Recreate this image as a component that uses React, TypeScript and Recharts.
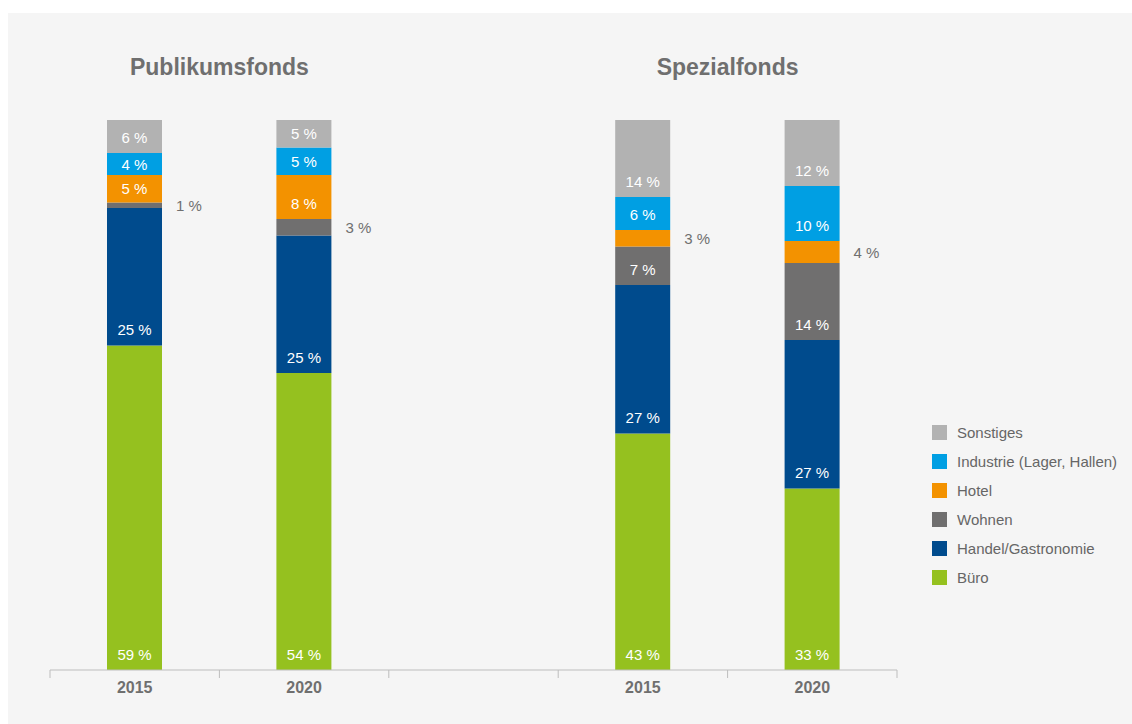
import { BarChart, Bar, XAxis, YAxis, LabelList, Legend } from 'recharts';

// categories: two fund types, each with 2015 and 2020, with an empty slot between
const categories = ['P-2015', 'P-2020', 'gap', 'S-2015', 'S-2020'];
const yearLabels = ['2015', '2020', '', '2015', '2020'];
const groupTitles = ['Publikumsfonds', 'Spezialfonds'];

// shares in percent
const buero = [59, 54, null, 43, 33];
const handel = [25, 25, null, 27, 27];
const wohnen = [1, 3, null, 7, 14];
const hotel = [5, 8, null, 3, 4];
const industrie = [4, 5, null, 6, 10];
const sonstiges = [6, 5, null, 14, 12];

// which segment gets its label outside the bar
const outsideLabel = ['wohnen', 'wohnen', null, 'hotel', 'hotel'];

const SERIES = [
  { key: 'buero', name: 'Büro', color: '#95c11f', values: buero },
  { key: 'handel', name: 'Handel/Gastronomie', color: '#004b8d', values: handel },
  { key: 'wohnen', name: 'Wohnen', color: '#706f6f', values: wohnen },
  { key: 'hotel', name: 'Hotel', color: '#f39200', values: hotel },
  { key: 'industrie', name: 'Industrie (Lager, Hallen)', color: '#009fe3', values: industrie },
  { key: 'sonstiges', name: 'Sonstiges', color: '#b2b2b2', values: sonstiges },
];

const data = categories.map((c, i) => {
  const row: any = { key: c };
  SERIES.forEach((s) => {
    row[s.key] = s.values[i];
  });
  return row;
});

const W = 1124;
const H = 711;
const MARGIN = { top: 107, right: 235, bottom: 24, left: 42 };
const PLOT_W = W - MARGIN.left - MARGIN.right;
const BAND = PLOT_W / categories.length;
const TEXT = '#6f6f6f';
const FONT = '"Liberation Sans", Arial, Helvetica, sans-serif';

const makeLabel = (seriesKey: string) => (props: any) => {
  const vb = props.viewBox || {};
  const x = props.x ?? vb.x;
  const y = props.y ?? vb.y;
  const width = props.width ?? vb.width;
  const height = props.height ?? vb.height;
  const value = props.value;
  if (value == null || !height) return null;
  // category of this bar, found from where it sits on the axis
  const cat = Math.floor((x + width / 2 - MARGIN.left) / BAND);
  if (outsideLabel[cat] === seriesKey) {
    return (
      <text x={x + width + 14} y={y + height / 2 + 5.5} fill={TEXT} fontSize={15}>
        {value} %
      </text>
    );
  }
  const cy = Math.max(y + height / 2, y + height - 16);
  return (
    <text x={x + width / 2} y={cy + 5.5} textAnchor="middle" fill="#ffffff" fontSize={15}>
      {value} %
    </text>
  );
};

const YearTick = (props: any) => {
  const { x, y, payload, index } = props;
  const band = props.width && props.visibleTicksCount ? props.width / props.visibleTicksCount : BAND;
  const axisY = y - 8;
  const i = index ?? categories.indexOf(payload.value);
  return (
    <g>
      <line x1={x - band / 2} x2={x - band / 2} y1={axisY} y2={axisY + 8} stroke="#bdbdbd" />
      {i === categories.length - 1 && (
        <line x1={x + band / 2} x2={x + band / 2} y1={axisY} y2={axisY + 8} stroke="#bdbdbd" />
      )}
      <text x={x} y={axisY + 23} textAnchor="middle" fontSize={16} fontWeight="bold" fill={TEXT}>
        {yearLabels[i]}
      </text>
    </g>
  );
};

const LegendBox = () => (
  <div style={{ fontFamily: FONT }}>
    {[...SERIES].reverse().map((s) => (
      <div key={s.key} style={{ display: 'flex', alignItems: 'center', height: 29 }}>
        <span style={{ width: 15, height: 15, background: s.color, marginRight: 10, display: 'inline-block' }} />
        <span style={{ fontSize: 15, color: '#666666' }}>{s.name}</span>
      </div>
    ))}
  </div>
);

export default function App() {
  return (
    <div
      style={{
        position: 'absolute',
        left: 8,
        top: 13,
        width: W,
        height: H,
        background: '#f5f5f5',
        fontFamily: FONT,
      }}
    >
      <BarChart width={W} height={H} data={data} margin={MARGIN} barSize={55}>
        <XAxis
          dataKey="key"
          height={30}
          interval={0}
          tickLine={false}
          tickSize={8}
          tickMargin={0}
          axisLine={{ stroke: '#bdbdbd' }}
          tick={<YearTick />}
        />
        <YAxis hide domain={[0, 100]} />
        <Legend
          layout="vertical"
          align="center"
          verticalAlign="middle"
          content={() => <LegendBox />}
          wrapperStyle={{ position: 'absolute', left: 924, top: 405, width: 200 }}
        />
        {SERIES.map((s) => (
          <Bar key={s.key} dataKey={s.key} name={s.name} stackId="a" fill={s.color} isAnimationActive={false}>
            <LabelList dataKey={s.key} content={makeLabel(s.key)} />
          </Bar>
        ))}
      </BarChart>
      <svg width={W} height={H} style={{ position: 'absolute', left: 0, top: 0, pointerEvents: 'none' }}>
        {groupTitles.map((t, g) => (
          <text
            key={t}
            x={MARGIN.left + BAND * (g * 3 + 1)}
            y={62}
            textAnchor="middle"
            fontSize={23}
            fontWeight="bold"
            fill={TEXT}
            fontFamily={FONT}
          >
            {t}
          </text>
        ))}
      </svg>
    </div>
  );
}
